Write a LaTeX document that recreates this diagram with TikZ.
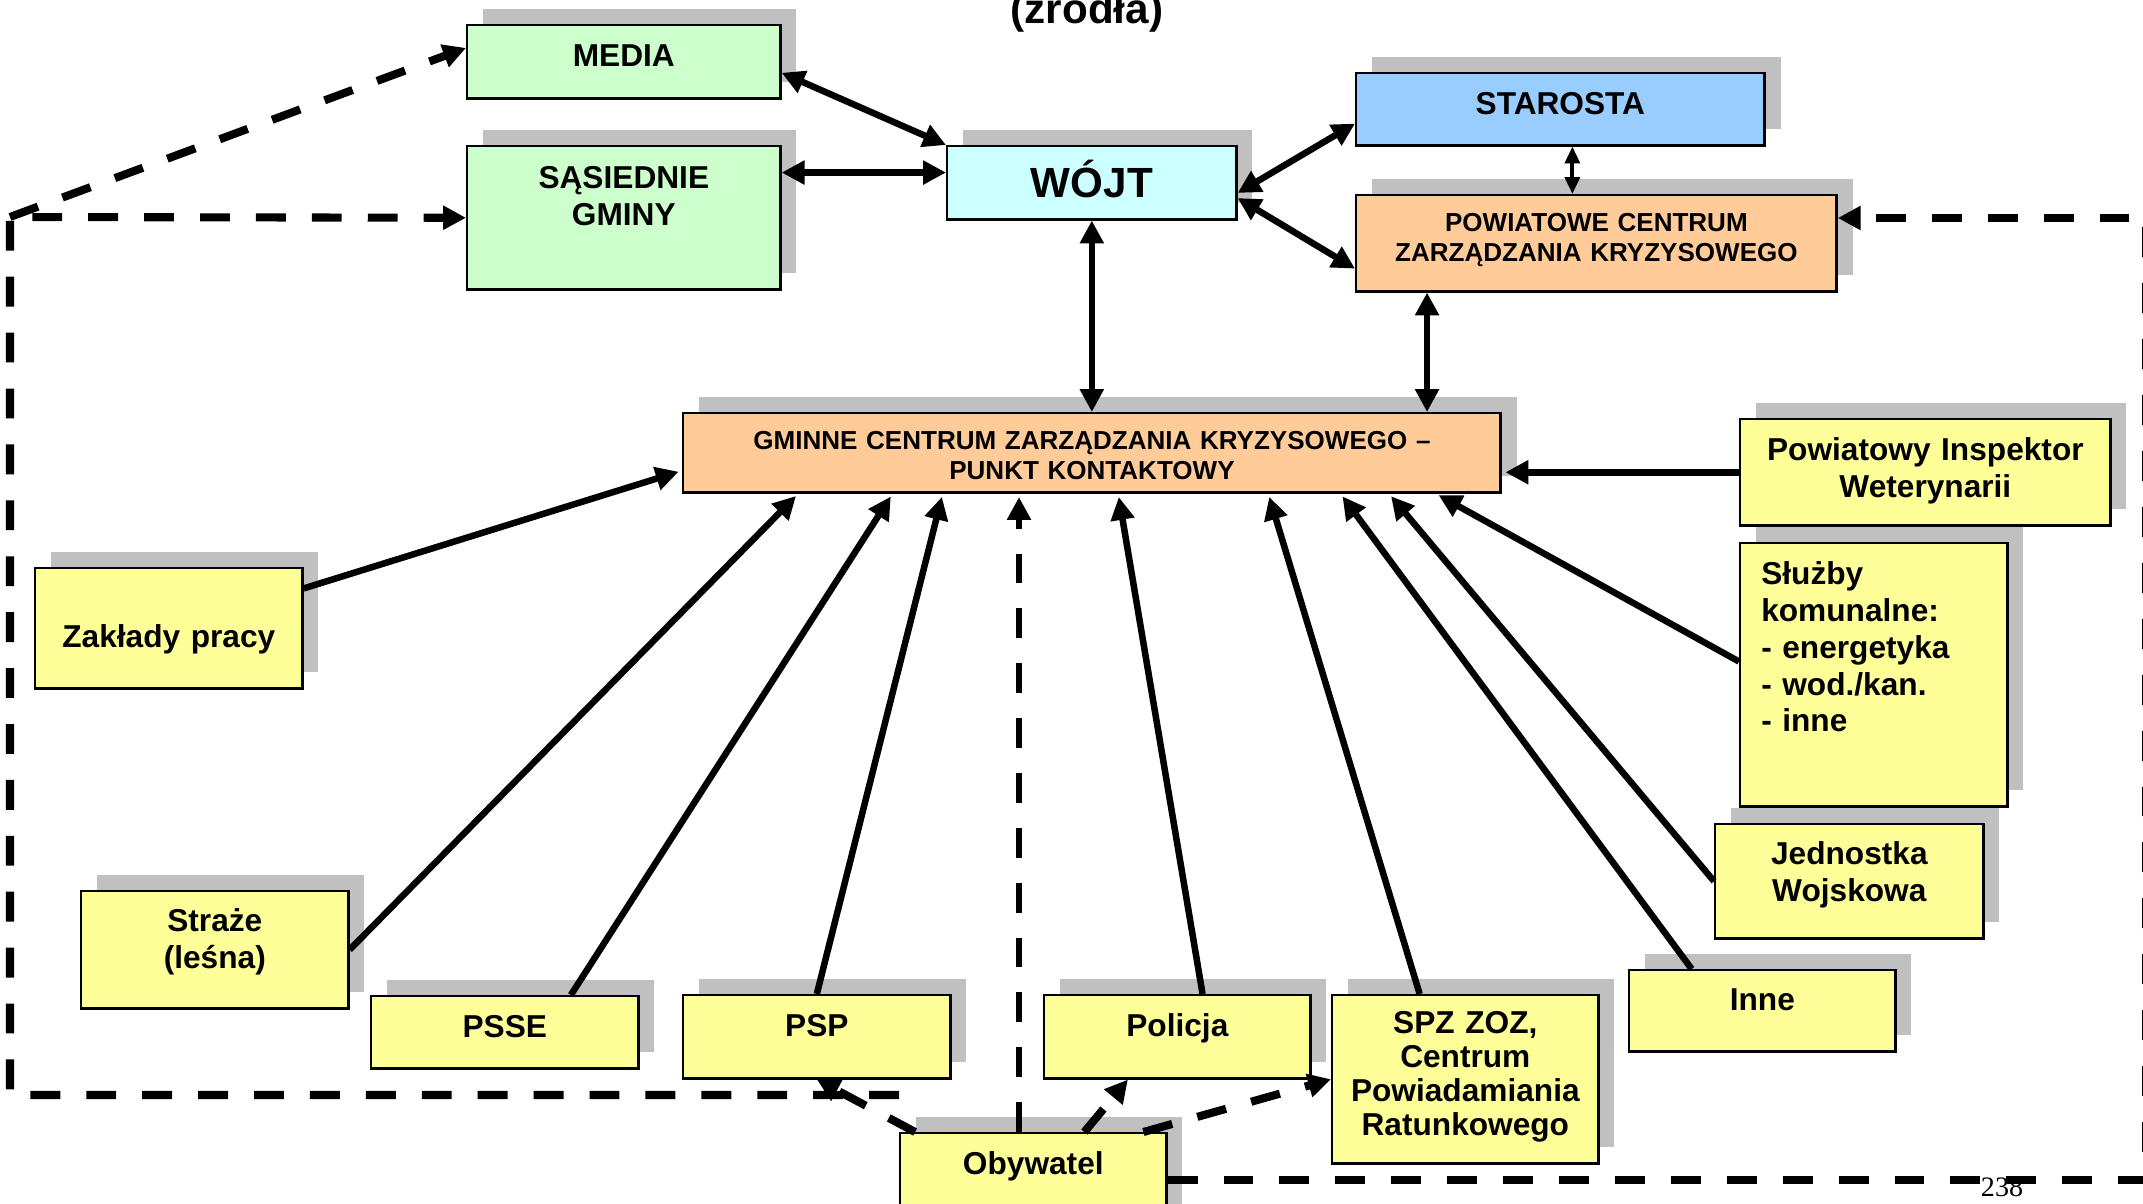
\documentclass[tikz,border=0pt]{standalone}
\usepackage{fontspec}
\setmainfont{Liberation Sans}
\newfontfamily\pagefont{Liberation Serif}
\usepackage{tikz}
\usetikzlibrary{arrows.meta}
\usetikzlibrary{shadows,calc}
\tikzset{
  >={Triangle[length=6.5pt,width=6.5pt]}
}
\newcommand{\boxfont}{\fontsize{9}{10.5}\selectfont\bfseries}
\newcommand{\smallboxfont}{\fontsize{7.4}{8.6}\selectfont\bfseries}
\newcommand{\bigboxfont}{\fontsize{12}{14}\selectfont\bfseries}

\begin{document}
\begin{tikzpicture}[x=0.01cm, y=-0.01cm]

            \useasboundingbox (0,0) rectangle (2143,1203);

            % BOXCOLORS
            \definecolor{greenbox}{HTML}{CCFFCC}
            \definecolor{cyanbox}{HTML}{CCFFFF}
            \definecolor{bluebox}{HTML}{99CCFF}
            \definecolor{orangebox}{HTML}{FFCC99}
            \definecolor{yellowbox}{HTML}{FFFF99}
            \definecolor{shadowgray}{HTML}{C0C0C0}

            % DEF STYLES
            \tikzstyle{boxstyle} = [draw=black, line width=0.7pt, anchor=north west, inner xsep=0pt, inner ysep=0pt, align=center, font=\boxfont, text height=0.41cm, general shadow={fill=shadowgray, shadow xshift=0.16cm, shadow yshift=0.16cm}]
            \tikzstyle{arrowstyle} = [line width=1.85pt, ->, shorten >=1pt]
            \tikzstyle{biarrowstyle} = [line width=1.85pt, <->]
            \tikzstyle{thinarrowstyle} = [line width=1.1pt, {Triangle[length=4.8pt,width=4.2pt]}-{Triangle[length=4.8pt,width=4.2pt]}]
            \tikzstyle{dashstyle} = [line width=2.3pt, dash pattern=on 8.5pt off 7.4pt, ->]
            \tikzstyle{centredashstyle} = [line width=1.9pt, dash pattern=on 8.5pt off 7.1pt, ->, shorten >=1pt]

            % TEXTS
            \node[font=\bigboxfont, anchor=base] (zrodla) at (1087,23) {(źródła)};
            \node[font=\pagefont\fontsize{8}{9}\selectfont] (pagenr) at (2002,1187) {238};

            % BOXES TOP
            \node[boxstyle, fill=greenbox, text width=3.13cm, text depth=0.32cm] (media) at (466,24) {MEDIA};
            \node[boxstyle, fill=greenbox, text width=3.13cm, text height=0.42cm, text depth=1.01cm] (sasiednie) at (466,145) {SĄSIEDNIE\\GMINY};
            \node[boxstyle, fill=cyanbox, text width=2.89cm, text height=0.51cm, text depth=0.22cm, font=\bigboxfont] (wojt) at (946,145) {WÓJT};
            \node[boxstyle, fill=bluebox, text width=4.08cm, text depth=0.31cm] (starosta) at (1355,72) {STAROSTA};
            \node[boxstyle, fill=orangebox, text width=4.80cm, text height=0.36cm, text depth=0.60cm, font=\smallboxfont] (pczk) at (1355,194) {POWIATOWE CENTRUM\\ZARZĄDZANIA KRYZYSOWEGO};
            \node[boxstyle, fill=orangebox, text width=8.17cm, text height=0.36cm, text depth=0.43cm, font=\smallboxfont] (gczk) at (682,412) {GMINNE CENTRUM ZARZĄDZANIA KRYZYSOWEGO –\\PUNKT KONTAKTOWY};

            % BOXES SOURCES
            \node[boxstyle, fill=yellowbox, text width=3.70cm, text depth=0.65cm] (piw) at (1739,418) {Powiatowy Inspektor\\Weterynarii};
            \node[boxstyle, fill=yellowbox, align=left, inner xsep=0.21cm, text width=2.25cm, text depth=2.22cm] (sluzby) at (1739,542) {Służby\\komunalne:\\- energetyka\\- wod./kan.\\- inne};
            \node[boxstyle, fill=yellowbox, text width=2.68cm, text height=0.40cm, text depth=0.74cm] (jw) at (1714,823) {Jednostka\\Wojskowa};
            \node[boxstyle, fill=yellowbox, text width=2.66cm, text height=0.40cm, text depth=0.41cm] (inne) at (1628,969) {Inne};
            \node[boxstyle, fill=yellowbox, text width=2.66cm, text height=0.38cm, text depth=1.30cm, font=\fontsize{9}{9.7}\selectfont\bfseries] (spz) at (1331,994) {SPZ ZOZ,\\Centrum\\Powiadamiania\\Ratunkowego};
            \node[boxstyle, fill=yellowbox, text width=2.66cm, text depth=0.42cm] (policja) at (1043,994) {Policja};
            \node[boxstyle, fill=yellowbox, text width=2.67cm, text depth=0.42cm] (psp) at (682,994) {PSP};
            \node[boxstyle, fill=yellowbox, text width=2.67cm, text depth=0.31cm] (psse) at (370,995) {PSSE};
            \node[boxstyle, fill=yellowbox, text width=2.67cm, text height=0.40cm, text depth=0.77cm] (straze) at (80,890) {Straże\\(leśna)};
            \node[boxstyle, fill=yellowbox, text width=2.67cm, text height=0.79cm, text depth=0.41cm] (zaklady) at (34,567) {Zakłady pracy};
            \node[boxstyle, fill=yellowbox, text width=2.66cm, text depth=0.79cm] (obyw) at (899,1132) {Obywatel};

            % ARROWS WOJT
            \draw[biarrowstyle] (media.-4) -- (wojt.north west);
            \draw[biarrowstyle] (wojt.176 -| sasiednie.east) -- (wojt.176);
            \draw[biarrowstyle] (wojt.-4) -- (starosta.184);
            \draw[biarrowstyle] (wojt.-6) -- (pczk.186);
            \draw[biarrowstyle] (wojt.south) -- (wojt.south |- gczk.north);
            \draw[thinarrowstyle] ([xshift=0.12cm]starosta.south) -- ([xshift=0.12cm]starosta.south |- pczk.north);
            \draw[biarrowstyle] ([xshift=0.72cm]pczk.south west) -- ([xshift=0.72cm]pczk.south west |- gczk.north);

            % DEF COORDINATES
            \coordinate (psseTop) at ($(psse.north west)!0.745!(psse.north east)$);
            \coordinate (policjaTop) at ($(policja.north west)!0.594!(policja.north east)$);
            \coordinate (spzTop) at ($(spz.north west)!0.33!(spz.north east)$);
            \coordinate (inneTop) at ($(inne.north west)!0.237!(inne.north east)$);
            \coordinate (sluzbyLeft) at ($(sluzby.north west)!0.45!(sluzby.south west)$);
            \coordinate (zakladyRight) at ($(zaklady.north east)!0.175!(zaklady.south east)$);
            \coordinate (obywA) at ($(obyw.north west)!0.06!(obyw.north east)$);
            \coordinate (obywB) at ($(obyw.north west)!0.69!(obyw.north east)$);
            \coordinate (obywC) at ($(obyw.north west)!0.91!(obyw.north east)$);
            \coordinate (policjaBottom) at ($(policja.south west)!0.316!(policja.south east)$);
            \coordinate (gczkObyw) at ($(gczk.south west)!0.411!(gczk.south east)$);
            \coordinate (cornerNW) at (10,217);
            \coordinate (cornerSW) at (10,1095);
            \coordinate (cornerNE) at (2146,218);
            \coordinate (cornerSE) at (2146,1180);

            % ARROWS GCZK
            \foreach \src/\f in {straze.east/0.142, psseTop/0.257, psp.north/0.318, policjaTop/0.532, spzTop/0.715, inneTop/0.803, jw.west/0.862, sluzbyLeft/0.919} {
              \draw[arrowstyle] (\src) -- ($(gczk.south west)!\f!(gczk.south east)$);
            }
            \draw[arrowstyle] (zakladyRight) -- ($(gczk.north west)!0.72!(gczk.south west)$);
            \draw[arrowstyle] (piw.west) -- (piw.west -| gczk.east);

            % DASHED
            \draw[dashstyle] (cornerSW -| obyw.west) -- (cornerSW) -- (cornerNW) -- (sasiednie.west);
            \draw[dashstyle] (cornerNW) -- (media.175);
            \draw[dashstyle] (cornerSE -| obyw.east) -- (cornerSE) -- (cornerNE) -- (cornerNE -| pczk.east);
            \draw[dashstyle] (obywA) -- (psp.south);
            \draw[dashstyle] (obywB) -- (policjaBottom);
            \draw[dashstyle] (obywC) -- (spz.west);
            \draw[centredashstyle] (gczkObyw |- obyw.north) -- (gczkObyw);

          \end{tikzpicture}
\end{document}
